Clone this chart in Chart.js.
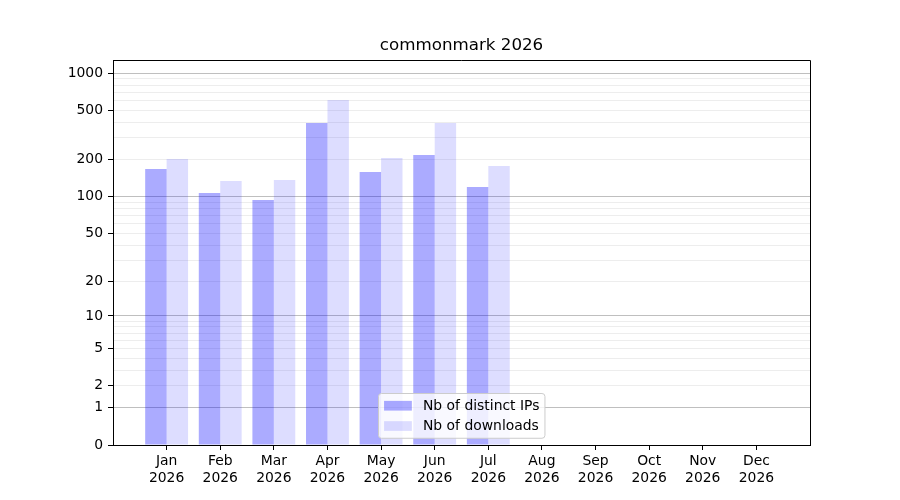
<!DOCTYPE html>
<html>
<head>
<meta charset="utf-8">
<title>commonmark 2026</title>
<script src="https://cdn.jsdelivr.net/npm/chart.js@4.4.1/dist/chart.umd.min.js"></script>
<style>
  html, body { margin: 0; padding: 0; background: #fff; }
  #wrap { width: 900px; height: 500px; position: relative; }
</style>
</head>
<body>
<div id="wrap"><canvas id="stats"></canvas></div>
<script>
// Monthly stats
const months = ['Jan', 'Feb', 'Mar', 'Apr', 'May', 'Jun', 'Jul', 'Aug', 'Sep', 'Oct', 'Nov', 'Dec'];
const year = '2026';
const distinctIps = [168, 107, 94, 396, 159, 218, 120];
const downloads = [202, 134, 137, 608, 206, 396, 178];

// y axis: log(1 + x) scale
const yTickLabels = [0, 1, 2, 5, 10, 20, 50, 100, 200, 500, 1000];
const yMinorTicks = [3, 4, 6, 7, 8, 9, 30, 40, 60, 70, 80, 90, 300, 400, 600, 700, 800, 900];
const yMajorGrid = [1, 10, 100, 1000];
const yMax = 1279;

const FONT = '"DejaVu Sans", "Liberation Sans", sans-serif';
const FS = 13.9;

// A scale that maps values through log10(1 + v), like matplotlib's symlog-ish look
class Log1pScale extends Chart.Scale {
  static id = 'log1p';
  static defaults = {};

  determineDataLimits() {
    const opts = this.options;
    this.min = opts.min != null ? opts.min : 0;
    this.max = opts.max != null ? opts.max : this.getMinMax(true).max;
  }
  buildTicks() {
    const vals = yTickLabels.concat(yMinorTicks).sort((a, b) => a - b);
    return vals.filter(v => v >= this.min && v <= this.max).map(v => ({ value: v }));
  }
  getLabelForValue(value) {
    return String(value);
  }
  configure() {
    super.configure();
    this._startValue = Math.log10(1 + this.min);
    this._valueRange = Math.log10(1 + this.max) - this._startValue;
  }
  getPixelForValue(value) {
    if (value === undefined || value === null || isNaN(value)) value = this.min;
    return this.getPixelForDecimal((Math.log10(1 + value) - this._startValue) / this._valueRange);
  }
  getValueForPixel(pixel) {
    return Math.pow(10, this._startValue + this.getDecimalForPixel(pixel) * this._valueRange) - 1;
  }
}
Chart.register(Log1pScale);

// top and right spines
const frame = {
  id: 'frame',
  afterDraw(chart) {
    const { ctx, chartArea } = chart;
    const t = Math.round(chartArea.top - 0.5) + 0.5;
    const r = Math.round(chartArea.right - 0.5) + 0.5;
    ctx.save();
    ctx.strokeStyle = '#000';
    ctx.lineWidth = 1;
    ctx.beginPath();
    ctx.moveTo(chartArea.left, t);
    ctx.lineTo(r, t);
    ctx.lineTo(r, chartArea.bottom);
    ctx.stroke();
    ctx.restore();
  }
};

// legend box inside the plot, lower center
const boxLegend = {
  id: 'boxLegend',
  afterDatasetsDraw(chart) {
    const { ctx, chartArea } = chart;
    const items = chart.data.datasets.map(d => ({ label: d.label, color: d.backgroundColor }));
    ctx.save();
    ctx.font = FS + 'px ' + FONT;
    const textW = Math.max(...items.map(i => ctx.measureText(i.label).width));
    const pad = 0.4 * FS, handle = 2 * FS, gap = 0.8 * FS, rowH = 0.96 * FS, spacing = 0.5 * FS;
    const w = pad * 2 + handle + gap + textW;
    const h = pad * 2 + rowH * items.length + spacing * (items.length - 1);
    const x = Math.round((chartArea.left + chartArea.right) / 2 - w / 2) + 0.5;
    const y = Math.round(chartArea.bottom - 0.5 * FS - h) + 0.5;

    ctx.beginPath();
    ctx.roundRect(x, y, w, h, 3);
    ctx.fillStyle = 'rgba(255,255,255,0.8)';
    ctx.fill();
    ctx.strokeStyle = '#cccccc';
    ctx.lineWidth = 1;
    ctx.stroke();

    ctx.textBaseline = 'middle';
    ctx.textAlign = 'left';
    items.forEach((it, i) => {
      const cy = y + pad + rowH / 2 + i * (rowH + spacing);
      ctx.fillStyle = it.color;
      ctx.fillRect(x + pad, cy - 0.35 * FS, handle, 0.7 * FS);
      ctx.fillStyle = '#000';
      ctx.fillText(it.label, x + pad + handle + gap, cy + 0.5);
    });
    ctx.restore();
  }
};

Chart.defaults.font.family = FONT;
Chart.defaults.font.size = FS;
Chart.defaults.color = '#000';

const ctx = document.getElementById('stats');
const statsChart = new Chart(ctx, {
  type: 'bar',
  data: {
    datasets: [
      {
        label: 'Nb of distinct IPs',
        data: distinctIps.map((v, i) => ({ x: i, y: v })),
        backgroundColor: 'rgba(0, 0, 255, 0.33)',
        borderWidth: 0
      },
      {
        label: 'Nb of downloads',
        data: downloads.map((v, i) => ({ x: i, y: v })),
        backgroundColor: 'rgba(0, 0, 255, 0.133)',
        borderWidth: 0
      }
    ]
  },
  plugins: [frame, boxLegend],
  options: {
    responsive: true,
    maintainAspectRatio: false,
    animation: false,
    layout: { padding: { left: 0, right: 90, top: 0, bottom: 0 } },
    datasets: {
      bar: { categoryPercentage: 0.8, barPercentage: 1.0 }
    },
    scales: {
      x: {
        type: 'linear',
        min: -1,
        max: 12,
        offset: false,
        afterBuildTicks: axis => {
          axis.ticks = months.map((m, i) => ({ value: i }));
        },
        afterFit: axis => { axis.height = 55; },
        ticks: {
          autoSkip: false,
          maxRotation: 0,
          padding: 3,
          callback: value => [months[value], year]
        },
        grid: {
          offset: false,
          drawOnChartArea: false,
          tickLength: 5,
          tickColor: '#000'
        },
        border: { color: '#000', width: 1 }
      },
      y: {
        type: 'log1p',
        min: 0,
        max: yMax,
        afterFit: axis => { axis.width = 113; },
        ticks: {
          autoSkip: false,
          padding: 5,
          callback: value => (yTickLabels.includes(value) ? String(value) : '')
        },
        grid: {
          tickLength: 5,
          color: c => (yMajorGrid.includes(c.tick.value) ? 'rgba(0,0,0,0.25)' : 'rgba(0,0,0,0.07)'),
          tickColor: c => (yTickLabels.includes(c.tick.value) ? '#000' : 'rgba(0,0,0,0)')
        },
        border: { color: '#000', width: 1 }
      }
    },
    plugins: {
      legend: { display: false },
      title: {
        display: true,
        text: 'commonmark 2026',
        fullSize: false,
        color: '#000',
        font: { size: 16.7, weight: 'normal', lineHeight: 1.2 },
        padding: { top: 36, bottom: 4 }
      },
      tooltip: { enabled: true }
    }
  }
});
</script>
</body>
</html>
